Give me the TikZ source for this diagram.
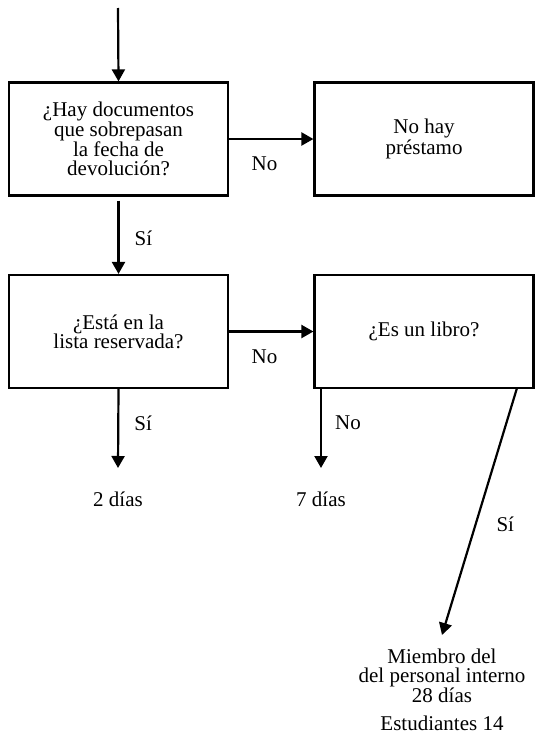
\documentclass[tikz,border=0pt]{standalone}
\usepackage{fontspec}
\setmainfont{Liberation Serif}
\usetikzlibrary{arrows.meta,calc}
\begin{document}
\begin{tikzpicture}[x=1pt,y=-1pt,
  every node/.style={font=\fontsize{21}{19}\selectfont, align=center},
  box/.style={draw, line width=2.2pt, minimum width=219pt, minimum height=113pt, inner sep=0pt},
  lbl/.style={inner sep=0pt},
  flow/.style={line width=2.2pt, -{Triangle[length=12pt,width=13pt]}}]
\useasboundingbox (0,0) rectangle (541,744);

% decision and outcome boxes
\node[box] (b1) at (118.5,139) {¿Hay documentos\\que sobrepasan\\la fecha de\\devolución?};
\node[box] (b2) at (424,139) {No hay\\préstamo};
\node[box] (b3) at (118.5,331.5) {¿Está en la\\lista reservada?};
\node[box] (b4) at (424,331.5) {¿Es un libro?};

% loan periods
\node[lbl] (d2) at (118,499) {2 días};
\node[lbl] (d7) at (321,499) {7 días};
\node[lbl] (staff) at (442,676) {Miembro del\\del personal interno\\28 días};
\node[lbl] (stud) at (442,723) {Estudiantes 14};

\coordinate (start) at (118,8);
\coordinate (s7) at (321,388);
\coordinate (e7) at (321,468);
\coordinate (e2) at (118,468);
\coordinate (sy) at (517,388);
\coordinate (ey) at (442,635);

% connectors
\draw[flow] (start) -- (b1.north);
\draw[flow] (b1.east) -- (b2.west) node[lbl, pos=0.42, yshift=-25pt] {No};
\draw[flow, shorten <=4pt] (b1.south) -- (b3.north) node[lbl, midway, xshift=25pt, yshift=-3pt] {Sí};
\draw[flow] (b3.east) -- (b4.west) node[lbl, pos=0.42, yshift=-25pt] {No};
\draw[flow] (b3.south) -- (e2) node[lbl, midway, xshift=25pt, yshift=5pt] {Sí};
\draw[flow] (s7) -- (e7) node[lbl, midway, xshift=27pt, yshift=5pt] {No};
\draw[flow] (sy) -- (ey) node[lbl, pos=0.53, xshift=28pt, yshift=-5pt] {Sí};
\end{tikzpicture}
\end{document}
